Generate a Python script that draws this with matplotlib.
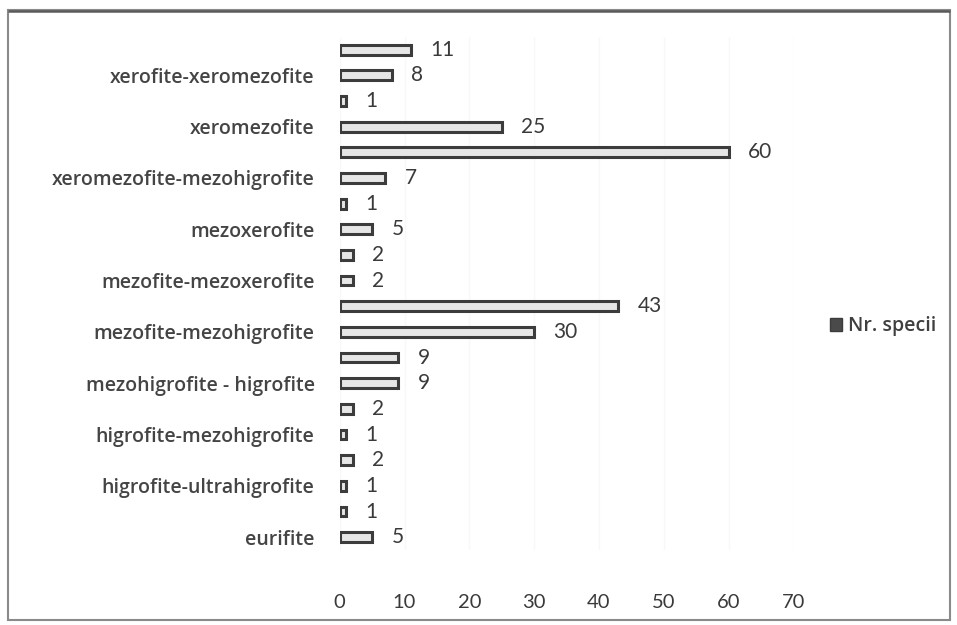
import matplotlib
matplotlib.use("Agg")
import matplotlib.pyplot as plt
from matplotlib.patches import Rectangle, Patch

# Ecological groups (bottom to top); every other group name is not printed on the axis
categories = [
    "eurifite", "", "higrofite-ultrahigrofite", "", "higrofite-mezohigrofite", "",
    "mezohigrofite - higrofite", "", "mezofite-mezohigrofite", "",
    "mezofite-mezoxerofite", "", "mezoxerofite", "", "xeromezofite-mezohigrofite", "",
    "xeromezofite", "", "xerofite-xeromezofite", "",
]
nr_specii = [5, 1, 1, 2, 1, 2, 9, 9, 30, 43, 2, 2, 5, 1, 7, 60, 25, 1, 8, 11]
x_ticks = [0, 10, 20, 30, 40, 50, 60, 70]
series_name = "Nr. specii"

plt.rcParams["font.family"] = ["Lato", "DejaVu Sans"]

fig = plt.figure(figsize=(9.57, 6.25), dpi=100)
fig.patch.set_facecolor("white")
ax = fig.add_axes([0.355, 0.12, 0.474, 0.821])

pos = list(range(len(nr_specii)))
ax.barh(pos, nr_specii, height=0.38, color="#e6e6e6",
        edgecolor="#3c3c3c", linewidth=2.2, zorder=3)

for p, v in zip(pos, nr_specii):
    ax.text(v + 3.0, p, str(v), va="center", ha="left",
            fontsize=15, color="#3a3a3a", zorder=4)

ax.set_ylim(-0.5, len(nr_specii) - 0.5)
ax.set_xlim(0, 70)
ax.set_xticks(x_ticks)
ax.set_xticklabels([str(t) for t in x_ticks], fontsize=14.5, color="#3a3a3a")
ax.set_yticks(pos)
ax.set_yticklabels(categories, fontsize=14.0, color="#444444",
                   fontweight="semibold", family=["Open Sans", "DejaVu Sans"])
ax.tick_params(axis="both", length=0)
ax.tick_params(axis="x", pad=32)
ax.tick_params(axis="y", pad=18)
for s in ax.spines.values():
    s.set_visible(False)
ax.grid(axis="x", color="#f8f8f8", linewidth=1.0, zorder=0)
ax.set_axisbelow(True)

handle = Patch(facecolor="#4a4a4a", edgecolor="#3c3c3c", linewidth=1.0)
leg = fig.legend(handles=[handle], labels=[series_name], loc="center left",
                 bbox_to_anchor=(0.849, 0.478), frameon=False,
                 prop={"family": ["Open Sans", "DejaVu Sans"], "size": 14,
                       "weight": "semibold"},
                 handlelength=0.6, handleheight=0.6,
                 handletextpad=0.35, labelcolor="#3f3f3f")

# outer frame around the chart area
fig.add_artist(Rectangle((8 / 957, 5 / 625), 942 / 957, 610 / 625,
                         transform=fig.transFigure, fill=False,
                         edgecolor="#8a8a8a", linewidth=1.5))
fig.add_artist(Rectangle((8 / 957, 614 / 625), 942 / 957, 0.0,
                         transform=fig.transFigure, fill=False,
                         edgecolor="#5a5a5a", linewidth=1.8))

fig.savefig("out.png", dpi=100, facecolor="white")
